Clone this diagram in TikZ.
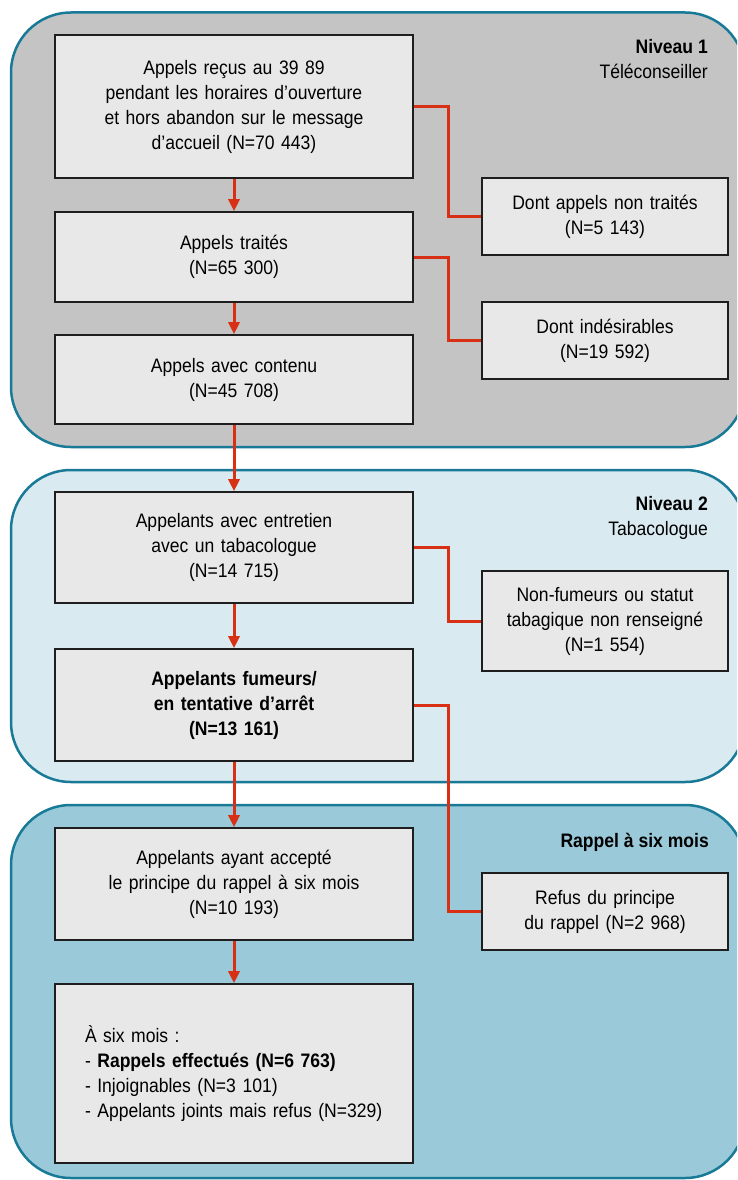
\documentclass[tikz,border=0pt]{standalone}
\usepackage{fontspec}
\setmainfont{Liberation Sans}[FakeStretch=0.9]
\usetikzlibrary{arrows.meta}

\definecolor{panelline}{HTML}{187A96}
\definecolor{levelone}{HTML}{C4C4C4}
\definecolor{leveltwo}{HTML}{DAEAF1}
\definecolor{levelthree}{HTML}{9ACAD9}
\definecolor{boxfill}{HTML}{E8E8E8}
\definecolor{boxline}{HTML}{1E1E1E}
\definecolor{flowred}{HTML}{D73014}

\begin{document}
\begin{tikzpicture}[x=1pt, y=-1pt,
		panel/.style={draw=panelline, line width=2.5pt, rounded corners=60pt},
		box/.style={draw=boxline, fill=boxfill, line width=1.6pt, inner sep=0pt, align=center, font=\fontsize{19.5}{25}\selectfont},
		leftbox/.style={box, minimum width=358pt, text width=340pt},
		rightbox/.style={box, minimum width=246pt, text width=236pt},
		levellabel/.style={anchor=base east, inner sep=0pt, font=\fontsize{19.5}{25}\selectfont},
		flow/.style={draw=flowred, line width=3pt, -{Triangle[length=12pt, width=11pt]}},
		branch/.style={draw=flowred, line width=3pt}]

			\useasboundingbox (0,0) rectangle (737,1180);
			\clip (0,0) rectangle (737,1180);

			\draw[panel, fill=levelone] (11,12.5) rectangle (745,447);
			\draw[panel, fill=leveltwo] (11,470) rectangle (745,782);
			\draw[panel, fill=levelthree] (11,805) rectangle (745,1178);

			\node[levellabel] (niv1) at (708,54) {\textbf{Niveau 1}};
			\node[levellabel] (tele) at (708,79) {Téléconseiller};
			\node[levellabel] (niv2) at (708,510) {\textbf{Niveau 2}};
			\node[levellabel] (taba) at (708,535) {Tabacologue};
			\node[levellabel] (rappel) at (709,847) {\textbf{Rappel à six mois}};

			\node[leftbox, minimum height=143pt] (B1) at (234,106.5) {Appels reçus au 39 89\\pendant les horaires d’ouverture\\et hors abandon sur le message\\d’accueil (N=70 443)};
			\node[leftbox, minimum height=90pt] (B2) at (234,257) {Appels traités\\(N=65 300)};
			\node[leftbox, minimum height=89pt] (B3) at (234,379.5) {Appels avec contenu\\(N=45 708)};
			\node[leftbox, minimum height=111pt] (B4) at (234,547.5) {Appelants avec entretien\\avec un tabacologue\\(N=14 715)};
			\node[leftbox, minimum height=112pt] (B5) at (234,705) {\textbf{Appelants fumeurs/}\\\textbf{en tentative d’arrêt}\\\textbf{(N=13 161)}};
			\node[leftbox, minimum height=112pt] (B6) at (234,884) {Appelants ayant accepté\\le principe du rappel à six mois\\(N=10 193)};
			\node[leftbox, minimum height=179pt, align=left, text width=298pt] (B7) at (234,1073.5) {À six mois :\\- \textbf{Rappels effectués (N=6 763)}\\- Injoignables (N=3 101)\\- Appelants joints mais refus (N=329)};

			\node[rightbox, minimum height=77pt] (R1) at (605,216.5) {Dont appels non traités\\(N=5 143)};
			\node[rightbox, minimum height=77pt] (R2) at (605,340.5) {Dont indésirables\\(N=19 592)};
			\node[rightbox, minimum height=100pt] (R3) at (605,621) {Non-fumeurs ou statut\\tabagique non renseigné\\(N=1 554)};
			\node[rightbox, minimum height=77pt] (R4) at (605,911.5) {Refus du principe\\du rappel (N=2 968)};

			\draw[flow] (B1) -- (B2);
			\draw[flow] (B2) -- (B3);
			\draw[flow] (B3) -- (B4);
			\draw[flow] (B4) -- (B5);
			\draw[flow] (B5) -- (B6);
			\draw[flow] (B6) -- (B7);

			\draw[branch] (B1.east) -- ++(35,0) |- (R1.west);
			\draw[branch] (B2.east) -- ++(35,0) |- (R2.west);
			\draw[branch] (B4.east) -- ++(35,0) |- (R3.west);
			\draw[branch] (B5.east) -- ++(35,0) |- (R4.west);

		\end{tikzpicture}
\end{document}
